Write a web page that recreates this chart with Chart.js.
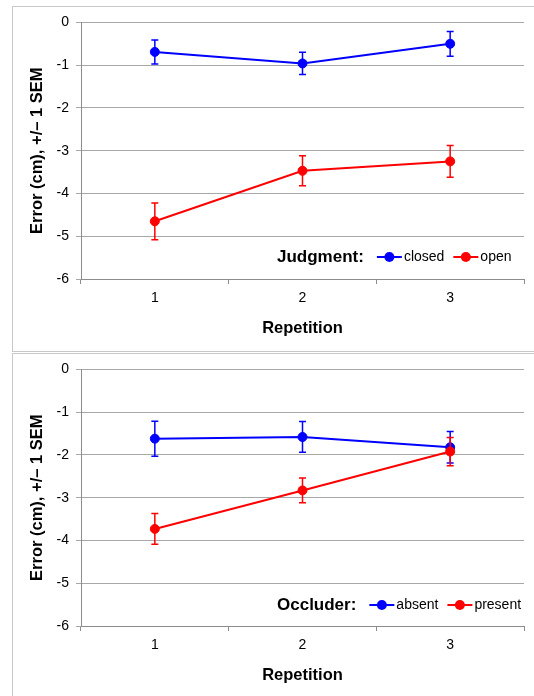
<!DOCTYPE html>
<html>
<head>
<meta charset="utf-8">
<script src="https://cdn.jsdelivr.net/npm/chart.js@4.4.1/dist/chart.umd.min.js"></script>
<style>
  html, body { margin: 0; padding: 0; background: #fff; overflow: hidden; width: 534px; height: 696px; }
  .panel { position: absolute; left: 12px; width: 540px; border: 1px solid #c8c8c8; box-sizing: border-box; }
  #p1 { top: 6px; height: 346px; }
  #p2 { top: 353px; height: 400px; }
  canvas { position: absolute; }
  #c1 { left: 13px; top: 7px; }
  #c2 { left: 13px; top: 354px; }
</style>
</head>
<body>
<div class="panel" id="p1"></div>
<div class="panel" id="p2"></div>
<canvas id="c1" width="521" height="344"></canvas>
<canvas id="c2" width="521" height="344"></canvas>
<script>
// ---- data ----
const repetitions = ['1', '2', '3'];
const yTicks = [0, -1, -2, -3, -4, -5, -6];

const judgmentTitle = 'Judgment:';
const closedLabel = 'closed';
const closedMean = [-0.69, -0.96, -0.50];
const closedSEM  = [0.28, 0.26, 0.29];
const openLabel = 'open';
const openMean = [-4.65, -3.47, -3.25];
const openSEM  = [0.43, 0.35, 0.37];

const occluderTitle = 'Occluder:';
const absentLabel = 'absent';
const absentMean = [-1.62, -1.58, -1.82];
const absentSEM  = [0.41, 0.36, 0.37];
const presentLabel = 'present';
const presentMean = [-3.73, -2.83, -1.92];
const presentSEM  = [0.36, 0.29, 0.33];

const yTitle = 'Error (cm), +/\u2013 1 SEM';
const xTitle = 'Repetition';

// ---- styling ----
const FONT = '"Liberation Sans", Arial, sans-serif';
const BLUE = '#0000ff';
const RED = '#ff0000';
const GRID = '#a8a8a8';
const AXIS = '#8c8c8c';

const errorBarPlugin = {
  id: 'errorBars',
  beforeDatasetDraw(chart, args) {
    const ds = chart.data.datasets[args.index];
    if (!ds.sem) return;
    const ctx = chart.ctx;
    const yScale = chart.scales.y;
    ctx.save();
    ctx.strokeStyle = ds.borderColor;
    ctx.lineWidth = 1.5;
    args.meta.data.forEach((pt, i) => {
      const v = ds.data[i];
      const s = ds.sem[i];
      const yt = yScale.getPixelForValue(v + s);
      const yb = yScale.getPixelForValue(v - s);
      const x = pt.x;
      ctx.beginPath();
      ctx.moveTo(x, yt); ctx.lineTo(x, yb);
      ctx.moveTo(x - 3.5, yt); ctx.lineTo(x + 3.5, yt);
      ctx.moveTo(x - 3.5, yb); ctx.lineTo(x + 3.5, yb);
      ctx.stroke();
    });
    ctx.restore();
  }
};

const legendPlugin = {
  id: 'customLegend',
  afterDraw(chart, args, opts) {
    const ctx = chart.ctx;
    ctx.save();
    let x = opts.x;
    const y = opts.y;
    ctx.textBaseline = 'middle';
    ctx.textAlign = 'left';
    ctx.fillStyle = '#000';
    ctx.font = 'bold 17px ' + FONT;
    ctx.fillText(opts.title, x, y);
    x += ctx.measureText(opts.title).width + 13;
    chart.data.datasets.forEach((ds, i) => {
      ctx.strokeStyle = ds.borderColor;
      ctx.fillStyle = ds.borderColor;
      ctx.lineWidth = 2;
      ctx.beginPath();
      ctx.moveTo(x, y); ctx.lineTo(x + 25, y);
      ctx.stroke();
      ctx.beginPath();
      ctx.arc(x + 12.5, y, 5, 0, Math.PI * 2);
      ctx.fill();
      x += 27;
      ctx.fillStyle = '#000';
      ctx.font = '14px ' + FONT;
      ctx.fillText(ds.label, x, y);
      x += ctx.measureText(ds.label).width + 9;
    });
    ctx.restore();
  }
};

function makeChart(id, series, legendTitle, legendY) {
  return new Chart(document.getElementById(id), {
    type: 'line',
    data: {
      labels: repetitions,
      datasets: series.map((s, i) => ({
        label: s.label,
        data: s.mean,
        sem: s.sem,
        borderColor: s.color,
        backgroundColor: s.color,
        pointBackgroundColor: s.color,
        pointBorderColor: s.color,
        pointRadius: 4.5,
        pointBorderWidth: 1,
        borderWidth: 2,
        tension: 0,
        order: 2 - i
      }))
    },
    options: {
      responsive: false,
      animation: false,
      devicePixelRatio: 1,
      events: [],
      layout: { padding: { left: 0, right: 10, top: 14, bottom: 0 } },
      plugins: {
        legend: { display: false },
        tooltip: { enabled: false },
        customLegend: { title: legendTitle, x: 264, y: legendY }
      },
      scales: {
        x: {
          type: 'category',
          offset: true,
          afterFit(scale) { scale.height = 72; },
          grid: { offset: true, drawOnChartArea: false, drawTicks: true, tickLength: 5, color: AXIS },
          border: { display: true, color: AXIS, width: 1 },
          ticks: { color: '#000', font: { family: FONT, size: 14 }, padding: 6, maxRotation: 0 },
          title: { display: true, text: xTitle, color: '#000', font: { family: FONT, size: 16.5, weight: 'bold' }, padding: { top: 0, bottom: 13 } }
        },
        y: {
          min: -6, max: 0,
          afterFit(scale) { scale.width = 68; },
          afterBuildTicks(scale) { scale.ticks = yTicks.map(v => ({ value: v })); },
          grid: { color: GRID, lineWidth: 1, tickLength: 5, drawTicks: true },
          border: { display: true, color: AXIS, width: 1 },
          ticks: { color: '#000', font: { family: FONT, size: 14 }, padding: 7 },
          title: { display: true, text: yTitle, color: '#000', font: { family: FONT, size: 16.5, weight: 'bold' }, padding: { top: 15, bottom: 0 } }
        }
      }
    },
    plugins: [errorBarPlugin, legendPlugin]
  });
}

makeChart('c1', [
  { label: closedLabel, mean: closedMean, sem: closedSEM, color: BLUE },
  { label: openLabel, mean: openMean, sem: openSEM, color: RED }
], judgmentTitle, 250);

makeChart('c2', [
  { label: absentLabel, mean: absentMean, sem: absentSEM, color: BLUE },
  { label: presentLabel, mean: presentMean, sem: presentSEM, color: RED }
], occluderTitle, 251);
</script>
</body>
</html>
